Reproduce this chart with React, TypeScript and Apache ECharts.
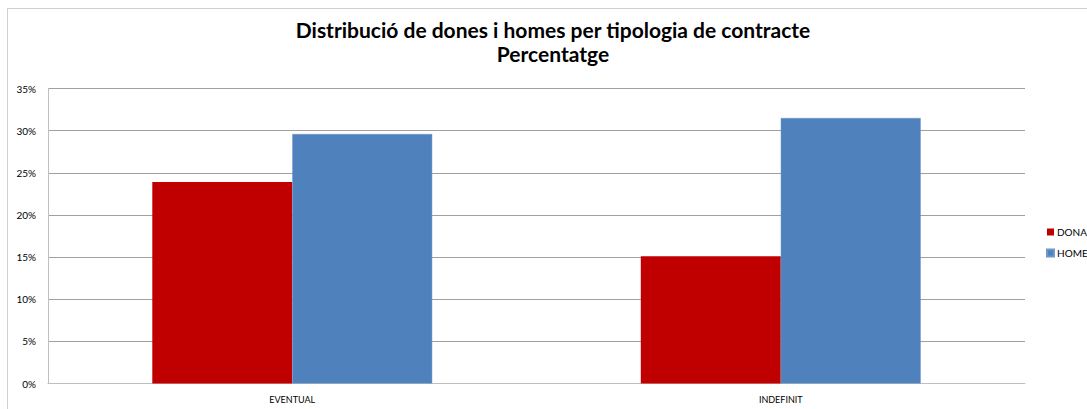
import React, { useEffect, useRef } from "react";
import * as echarts from "echarts";

const categories = ["EVENTUAL", "INDEFINIT"];
const donaValues = [23.9, 15.1];
const homeValues = [29.6, 31.5];
const yTicks = [0, 5, 10, 15, 20, 25, 30, 35];
const titleLines = ["Distribució de dones i homes per tipologia de contracte", "Percentatge"];

export default function App() {
  const ref = useRef<HTMLDivElement>(null);
  useEffect(() => {
    if (!ref.current) return;
    const chart = echarts.init(ref.current, undefined, { renderer: "svg" });
    const font = "Lato, 'Liberation Sans', sans-serif";
    chart.setOption({
      animation: false,
      backgroundColor: "#ffffff",
      title: {
        text: titleLines.join("\n"),
        left: 541,
        top: 4,
        textAlign: "center",
        textStyle: { fontFamily: font, fontSize: 21, fontWeight: "bold", color: "#000000", lineHeight: 24 },
      },
      legend: {
        orient: "vertical",
        left: 1039,
        top: 219,
        padding: 0,
        itemWidth: 7,
        itemHeight: 7,
        itemGap: 11,
        icon: "rect",
        textStyle: { fontFamily: font, fontSize: 10, color: "#000000", padding: [0, 0, 0, -2] },
        data: ["DONA", "HOME"],
      },
      grid: { left: 41, right: 62, top: 80.5, bottom: 25.5, containLabel: false },
      xAxis: {
        type: "category",
        data: categories,
        axisLine: { lineStyle: { color: "#bfbfbf", width: 1 } },
        axisTick: { show: false },
        axisLabel: { fontFamily: font, fontSize: 9, color: "#000000", margin: 11 },
      },
      yAxis: {
        type: "value",
        min: yTicks[0],
        max: yTicks[yTicks.length - 1],
        interval: 5,
        axisLine: { show: true, lineStyle: { color: "#bfbfbf", width: 1 } },
        axisTick: { show: false },
        axisLabel: { fontFamily: font, fontSize: 10, color: "#000000", margin: 12, formatter: "{value}%" },
        splitLine: { lineStyle: { color: "#a0a0a0", width: 1 } },
      },
      series: [
        {
          name: "DONA",
          type: "bar",
          data: donaValues,
          barGap: "0%",
          barCategoryGap: "42.7%",
          itemStyle: { color: "#C00000" },
        },
        {
          name: "HOME",
          type: "bar",
          data: homeValues,
          barGap: "0%",
          barCategoryGap: "42.7%",
          itemStyle: { color: "#4F81BD", borderColor: "#6f97c8", borderWidth: 0.5 },
        },
      ],
      graphic: [
        { type: "line", shape: { x1: 0.5, y1: 0, x2: 0.5, y2: 401 }, style: { stroke: "#d0d0d0", lineWidth: 1 } },
        { type: "line", shape: { x1: 0, y1: 0.5, x2: 1080, y2: 0.5 }, style: { stroke: "#d0d0d0", lineWidth: 1 } },
      ],
    });
    return () => chart.dispose();
  }, []);
  return (
    <div
      ref={ref}
      style={{ position: "absolute", left: 7, top: 8, width: 1080, height: 401 }}
    />
  );
}
